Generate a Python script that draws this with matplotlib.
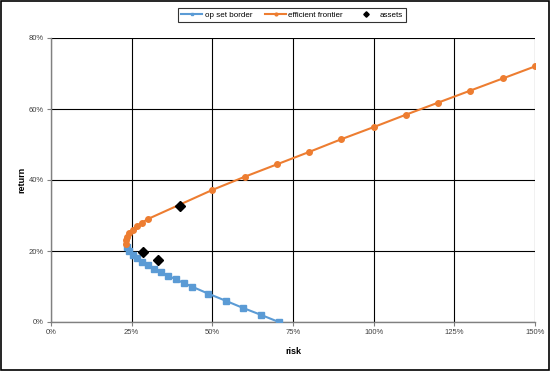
import matplotlib
matplotlib.use("Agg")
import matplotlib.pyplot as plt
from matplotlib.ticker import FuncFormatter, MultipleLocator
from matplotlib.patches import Rectangle

plt.rcParams['font.family'] = ['Liberation Sans', 'DejaVu Sans']

# op set border (risk, return)
border_risk = [0.706, 0.651, 0.594, 0.541, 0.487, 0.436, 0.411, 0.387, 0.364,
               0.341, 0.320, 0.300, 0.282, 0.266, 0.253, 0.242, 0.234]
border_ret = [0.00, 0.02, 0.04, 0.06, 0.08, 0.10, 0.11, 0.12, 0.13,
              0.14, 0.15, 0.16, 0.17, 0.18, 0.19, 0.20, 0.21]

# efficient frontier (risk, return)
front_risk = [0.231, 0.231, 0.235, 0.242, 0.253, 0.266, 0.282, 0.300,
              0.50, 0.60, 0.70, 0.80, 0.90, 1.00, 1.10, 1.20, 1.30, 1.40, 1.50]
front_ret = [0.22, 0.23, 0.24, 0.25, 0.26, 0.27, 0.28, 0.29,
             0.372, 0.409, 0.444, 0.479, 0.515, 0.549, 0.584, 0.618, 0.652, 0.686, 0.720]

# assets
asset_risk = [0.40, 0.285, 0.332]
asset_ret = [0.327, 0.197, 0.175]

fig = plt.figure(figsize=(5.6, 3.72), dpi=100)
ax = fig.add_axes([51/560, 1-322/372, (535-51)/560, (322-38)/372])

blue = '#5B9BD5'
orange = '#ED7D31'

ax.plot(border_risk, border_ret, color=blue, lw=1.5, marker='s', ms=4.2,
        label='op set border', zorder=3)
ax.plot(front_risk, front_ret, color=orange, lw=1.5, marker='o', ms=4.0,
        label='efficient frontier', zorder=3)
ax.plot(asset_risk, asset_ret, ls='none', color='black', marker='D', ms=5.5,
        label='assets', zorder=4)

ax.set_xlim(0, 1.5)
ax.set_ylim(0, 0.8)
ax.xaxis.set_major_locator(MultipleLocator(0.25))
ax.yaxis.set_major_locator(MultipleLocator(0.2))
pct = FuncFormatter(lambda v, p: f"{v*100:.0f}%")
ax.xaxis.set_major_formatter(pct)
ax.yaxis.set_major_formatter(pct)
ax.grid(True, color='black', lw=0.8, zorder=0)
ax.set_axisbelow(True)
for s in ['top', 'right']:
    ax.spines[s].set_visible(False)
for s in ['left', 'bottom']:
    ax.spines[s].set_color('#808080')
    ax.spines[s].set_linewidth(1.0)
ax.tick_params(axis='both', labelsize=5.5, colors='#808080', labelcolor='#404040',
               length=3, width=0.8, direction='out', pad=2)

ax.set_xlabel('risk', fontsize=6.5, fontweight='bold', labelpad=8)
ax.set_ylabel('return', fontsize=6.5, fontweight='bold', labelpad=2)

leg = fig.legend(loc='upper center', bbox_to_anchor=(292/560, 1-4/372), ncol=3,
                 fontsize=5.8, frameon=True, fancybox=False, edgecolor='black',
                 handlelength=2.6, columnspacing=1.6, handletextpad=0.3,
                 borderpad=0.4, markerscale=0.5)
leg.get_frame().set_linewidth(0.8)

fig.patches.append(Rectangle((1/560, 2/372), 548/560, 369/372, transform=fig.transFigure,
                             fill=False, edgecolor='black', lw=1.2))

fig.savefig('out.png', dpi=100)
